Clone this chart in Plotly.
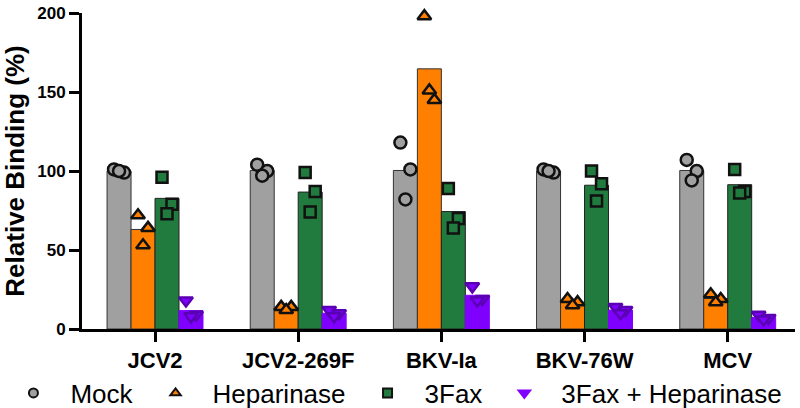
import numpy as np
import plotly.graph_objects as go

FONT = 'Liberation Sans, Arial, sans-serif'

# ---------- data: three replicates per virus and treatment ----------
VIRUSES = ['JCV2', 'JCV2-269F', 'BKV-Ia', 'BKV-76W', 'MCV']
TREATMENTS = ['Mock', 'Heparinase', '3Fax', '3Fax + Heparinase']

MOCK = [[101, 99, 100], [104, 100, 97], [118, 101, 82], [101, 99, 100], [107, 100, 94]]
HEPARINASE = [[72, 64, 53], [14, 14, 12], [198, 145, 151], [19, 17, 15], [22, 19, 17]]
FAX = [[96, 79, 73], [99, 87, 74], [89, 70, 64], [100, 92, 81], [101, 87, 86]]
FAX_HEP = [[18, 9, 8], [12, 10, 8], [27, 19, 18], [14, 12, 10], [9, 7, 6]]

Y_TICKS = [0, 50, 100, 150, 200]

# ---------- style ----------
BAR_FILL = ['#a0a0a0', '#ff8000', '#217a3e', '#8000ff']
BAR_LINE = ['#333333', '#333333', '#222222', '#8000ff']
PT_FILL = ['#a0a0a0', '#ff8000', '#217a3e', '#8000ff']
PT_LINE = ['#111111', '#111111', '#111111', '#5a00b4']
LEG_LINE = ['#111111', '#111111', '#111111', '#8000ff']
SYMBOLS = ['circle', 'triangle-up', 'square', 'triangle-down']
PT_SIZE = [12, 12, 11, 12]
LEG_SIZE = [9, 9, 9, 10]
BAR_W = 0.1675
OFFSETS = [-1.5 * BAR_W, -0.5 * BAR_W, 0.5 * BAR_W, 1.5 * BAR_W]
JITTER = [-0.035, 0.035, 0.0]

series = [MOCK, HEPARINASE, FAX, FAX_HEP]

fig = go.Figure()
for k, vals in enumerate(series):
    fig.add_trace(go.Bar(
        x=[i + OFFSETS[k] for i in range(len(VIRUSES))],
        y=[np.mean(v) for v in vals],
        width=BAR_W,
        marker=dict(color=BAR_FILL[k], line=dict(color=BAR_LINE[k], width=1)),
        showlegend=False, hoverinfo='skip',
    ))

for k, vals in enumerate(series):
    xs, ys = [], []
    for i, reps in enumerate(vals):
        for j, v in enumerate(reps):
            xs.append(i + OFFSETS[k] + JITTER[j])
            ys.append(v)
    fig.add_trace(go.Scatter(
        x=xs, y=ys, mode='markers', name=TREATMENTS[k], showlegend=False,
        cliponaxis=False,
        marker=dict(symbol=SYMBOLS[k], size=PT_SIZE[k], color=PT_FILL[k],
                    line=dict(color=PT_LINE[k], width=2.5)),
    ))

# legend entries with the smaller glyphs of the original key
for k in range(len(TREATMENTS)):
    fig.add_trace(go.Scatter(
        x=[None], y=[None], mode='markers', name=TREATMENTS[k],
        marker=dict(symbol=SYMBOLS[k], size=LEG_SIZE[k], color=PT_FILL[k],
                    line=dict(color=LEG_LINE[k], width=2)),
    ))

fig.update_layout(
    width=800, height=408,
    margin=dict(l=82, r=5, t=13, b=79, autoexpand=False),
    paper_bgcolor='white', plot_bgcolor='white',
    font=dict(family=FONT, color='black'),
    barmode='overlay',
    xaxis=dict(range=[-0.51, 4.47], tickvals=list(range(len(VIRUSES))), ticktext=VIRUSES,
               automargin=False,
               showline=True, linecolor='black', linewidth=3,
               ticks='outside', ticklen=10, tickwidth=3, tickcolor='black',
               tickfont=dict(size=22, family=FONT, weight='bold'),
               showgrid=False, zeroline=False),
    yaxis=dict(range=[0, 200], tickvals=Y_TICKS, automargin=False,
               ticklabeloverflow='allow',
               showline=True, linecolor='black', linewidth=3,
               ticks='outside', ticklen=10, tickwidth=3, tickcolor='black',
               tickfont=dict(size=17, family=FONT, weight='bold'),
               title=dict(text='Relative Binding (%)', standoff=14,
                          font=dict(size=26, family=FONT, weight='bold')),
               showgrid=False, zeroline=False),
    legend=dict(orientation='h', xanchor='left', x=-0.12, yanchor='middle', y=-0.2025,
                font=dict(size=26, family=FONT), itemwidth=64,
                bgcolor='rgba(0,0,0,0)'),
)

# drop the page's default body margin so the figure fills the window
fig.write_html('out.html', config={'displayModeBar': False},
               post_script="document.body.style.margin='0';")
